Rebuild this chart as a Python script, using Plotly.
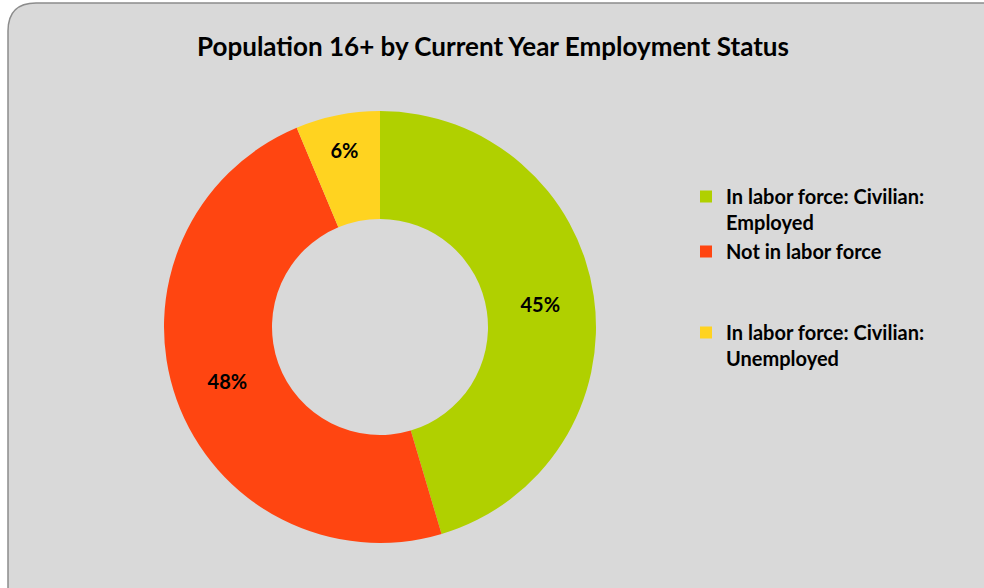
import plotly.graph_objects as go

categories = ["In labor force: Civilian:<br>Employed", "Not in labor force", "In labor force: Civilian:<br>Unemployed"]
values = [45.4, 48.3, 6.3]
colors = ["#b0d000", "#ff4511", "#ffd320"]
title_text = "Population 16+ by Current Year Employment Status"

# pad legend entries so they are spaced like the original legend
pad = ["", "<br> <br> ", ""]
legend_labels = [c + p for c, p in zip(categories, pad)]

FONT = "Lato, Open Sans, sans-serif"

fig = go.Figure()
fig.add_trace(go.Pie(
    labels=legend_labels,
    values=values,
    hole=0.5,
    sort=False,
    direction="clockwise",
    rotation=0,
    marker=dict(colors=colors, line=dict(width=0)),
    texttemplate="%{percent:.0%}",
    textposition="inside",
    insidetextorientation="horizontal",
    textfont=dict(family=FONT, size=20, color="black", weight="bold"),
    domain=dict(x=[164/984, 596/984], y=[1-543/588, 1-111/588]),
    hoverinfo="label+percent",
))

fig.update_layout(
    width=984, height=588,
    margin=dict(l=0, r=0, t=0, b=0),
    paper_bgcolor="white",
    title=dict(text="<b>" + title_text + "</b>", x=493/984, y=1-47/588,
               xanchor="center", yanchor="middle",
               font=dict(family=FONT, size=26, color="black")),
    legend=dict(x=686/984, y=1-177/588, xanchor="left", yanchor="top",
                valign="top", bgcolor="rgba(0,0,0,0)",
                font=dict(family=FONT, size=20, color="black", weight="bold")),
    showlegend=True,
)

x0, yt = 8/984, 1-3/588
x1, yb = 1.02, -0.03
rx, ry = 28/984, 28/588
path = (f"M {x0},{yb} L {x0},{yt-ry} Q {x0},{yt} {x0+rx},{yt} "
        f"L {x1},{yt} L {x1},{yb} Z")
fig.add_shape(type="path", path=path, xref="paper", yref="paper",
              fillcolor="#d9d9d9", line=dict(color="#8c8c8c", width=1.5), layer="below")

fig.write_html("out.html", config={"displayModeBar": False},
               post_script="document.body.style.margin='0px';")
